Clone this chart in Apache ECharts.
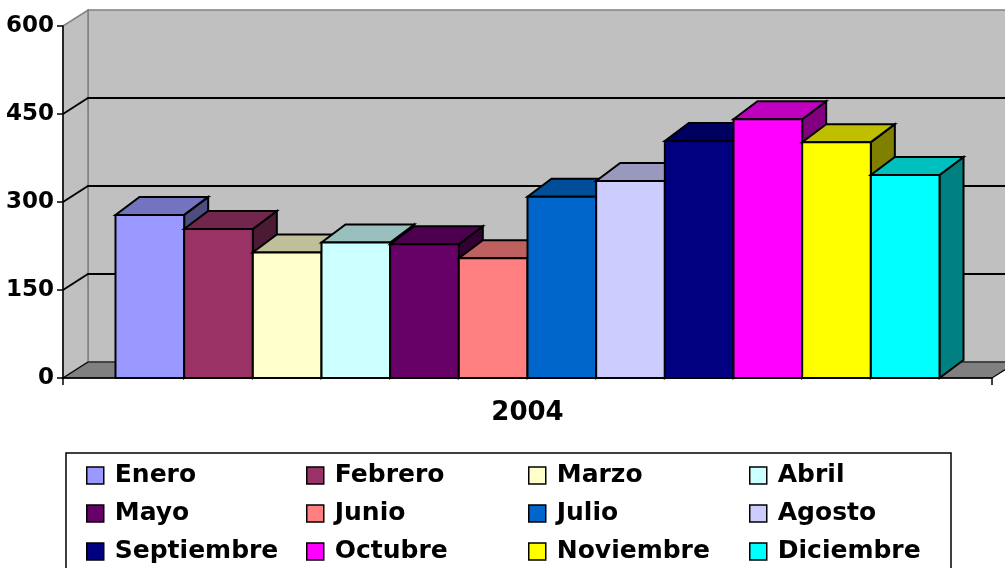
<!DOCTYPE html>
<html>
<head>
<meta charset="utf-8">
<script src="https://cdn.jsdelivr.net/npm/echarts@6/dist/echarts.min.js"></script>
<style>
html,body{margin:0;padding:0;background:#fff;}
#chart{width:1005px;height:568px;}
</style>
</head>
<body>
<div id="chart"></div>
<script>
// ---- data ----
const categories = ['2004'];
const months = ['Enero','Febrero','Marzo','Abril','Mayo','Junio','Julio','Agosto','Septiembre','Octubre','Noviembre','Diciembre'];
const values = [278, 254, 214, 231, 228, 204, 309, 336, 404, 441, 402, 346];
const colors = ['#9999FF','#993366','#FFFFCC','#CCFFFF','#660066','#FF8080','#0066CC','#CCCCFF','#000080','#FF00FF','#FFFF00','#00FFFF'];
const yTicks = [0, 150, 300, 450, 600];

// ---- style constants ----
const FONT = 'DejaVu Sans';
const GROUP_RATIO = 0.887;
const BAR_DX = 24, BAR_DY = -18;
const WALL_DX = 25, WALL_DY = -16;

function shade(hex, f) {
  const n = parseInt(hex.slice(1), 16);
  const r = Math.round(((n >> 16) & 255) * f);
  const g = Math.round(((n >> 8) & 255) * f);
  const b = Math.round((n & 255) * f);
  return 'rgb(' + r + ',' + g + ',' + b + ')';
}

const chart = echarts.init(document.getElementById('chart'), null, {renderer: 'canvas'});

function frameRender(params, api) {
  const cs = params.coordSys;
  const x0 = cs.x, x1 = cs.x + cs.width;
  const yBase = api.coord([0, yTicks[0]])[1];
  const yTop = api.coord([0, yTicks[yTicks.length - 1]])[1];
  const dx = WALL_DX, dy = WALL_DY;
  const children = [];
  children.push({type: 'rect', shape: {x: x0 + dx, y: yTop + dy, width: cs.width + 5, height: yBase - yTop},
    style: {fill: '#C0C0C0', stroke: '#808080', lineWidth: 1.5}});
  children.push({type: 'polygon', shape: {points: [[x0, yBase], [x0, yTop], [x0 + dx, yTop + dy], [x0 + dx, yBase + dy]]},
    style: {fill: '#C0C0C0', stroke: '#808080', lineWidth: 1.5}});
  for (let k = 1; k < yTicks.length - 1; k++) {
    const y = api.coord([0, yTicks[k]])[1];
    children.push({type: 'polyline', shape: {points: [[x0, y], [x0 + dx, y + dy], [x1 + dx + 5, y + dy]]},
      style: {fill: null, stroke: '#000', lineWidth: 1.8}});
  }
  children.push({type: 'polygon', shape: {points: [[x0, yBase], [x0 + dx, yBase + dy], [x1 + dx, yBase + dy], [x1, yBase]]},
    style: {fill: '#808080', stroke: '#000', lineWidth: 1.2}});
  return {type: 'group', children: children};
}

function makeBarRender(i) {
  const c = colors[i], topC = shade(c, 0.75), sideC = shade(c, 0.5);
  return function (params, api) {
    const v = api.value(1);
    const top = api.coord([api.value(0), v]);
    const base = api.coord([api.value(0), 0]);
    const band = api.size([1, 0])[0];
    const gw = band * GROUP_RATIO;
    const w = gw / months.length;
    const xa = top[0] - gw / 2 + i * w;
    const xb = xa + w;
    const yT = top[1], yB = base[1];
    const st = {stroke: '#000', lineWidth: 2, lineJoin: 'miter'};
    return {type: 'group', children: [
      {type: 'polygon', shape: {points: [[xb, yB], [xb, yT], [xb + BAR_DX, yT + BAR_DY], [xb + BAR_DX, yB + BAR_DY]]},
        style: Object.assign({fill: sideC}, st)},
      {type: 'polygon', shape: {points: [[xa, yT], [xb, yT], [xb + BAR_DX, yT + BAR_DY], [xa + BAR_DX, yT + BAR_DY]]},
        style: Object.assign({fill: topC}, st)},
      {type: 'rect', shape: {x: xa, y: yT, width: w, height: yB - yT},
        style: Object.assign({fill: c}, st)}
    ]};
  };
}

const series = [{
  name: '__frame', type: 'custom', silent: true, z: 1,
  renderItem: frameRender, data: [[0, 0]]
}];
months.forEach(function (m, i) {
  series.push({
    name: m, type: 'custom', z: 2 + i, renderItem: makeBarRender(i),
    itemStyle: {color: colors[i]},
    data: [[0, values[i]]]
  });
});

const colLefts = [86, 306, 528, 749];
const legends = colLefts.map(function (lx, c) {
  return {
    left: lx, top: 463, orient: 'vertical', padding: 0, height: 110,
    data: [months[c], months[c + 4], months[c + 8]],
    icon: 'rect', itemWidth: 17, itemHeight: 17, itemGap: 13,
    itemStyle: {borderColor: '#000', borderWidth: 1.5},
    selectedMode: false,
    textStyle: {fontFamily: FONT, fontWeight: 'bold', fontSize: 25, lineHeight: 25, color: '#000', padding: [0, 0, 0, 6]}
  };
});

const option = {
  backgroundColor: '#fff',
  animation: false,
  grid: {left: 63, right: 13, top: 26, bottom: 190, containLabel: false},
  xAxis: {
    type: 'category', data: categories, z: 50,
    axisLine: {show: true, lineStyle: {color: '#000', width: 1.5}},
    axisTick: {show: true, length: 7, lineStyle: {color: '#000', width: 1.5}},
    axisLabel: {fontFamily: FONT, fontWeight: 'bold', fontSize: 26, color: '#000', margin: 22},
    splitLine: {show: false}
  },
  yAxis: {
    type: 'value', min: yTicks[0], max: yTicks[yTicks.length - 1], interval: yTicks[1] - yTicks[0], z: 50,
    axisLine: {show: true, lineStyle: {color: '#000', width: 1.5}},
    axisTick: {show: true, length: 6, lineStyle: {color: '#000', width: 1.5}},
    axisLabel: {fontFamily: FONT, fontWeight: 'bold', fontSize: 23, color: '#000', margin: 9},
    splitLine: {show: false}
  },
  legend: legends,
  graphic: [{
    type: 'rect', silent: true, z: 0,
    shape: {x: 66, y: 453, width: 885, height: 130},
    style: {fill: '#fff', stroke: '#000', lineWidth: 1.5}
  }],
  series: series
};
chart.setOption(option);
</script>
</body>
</html>
